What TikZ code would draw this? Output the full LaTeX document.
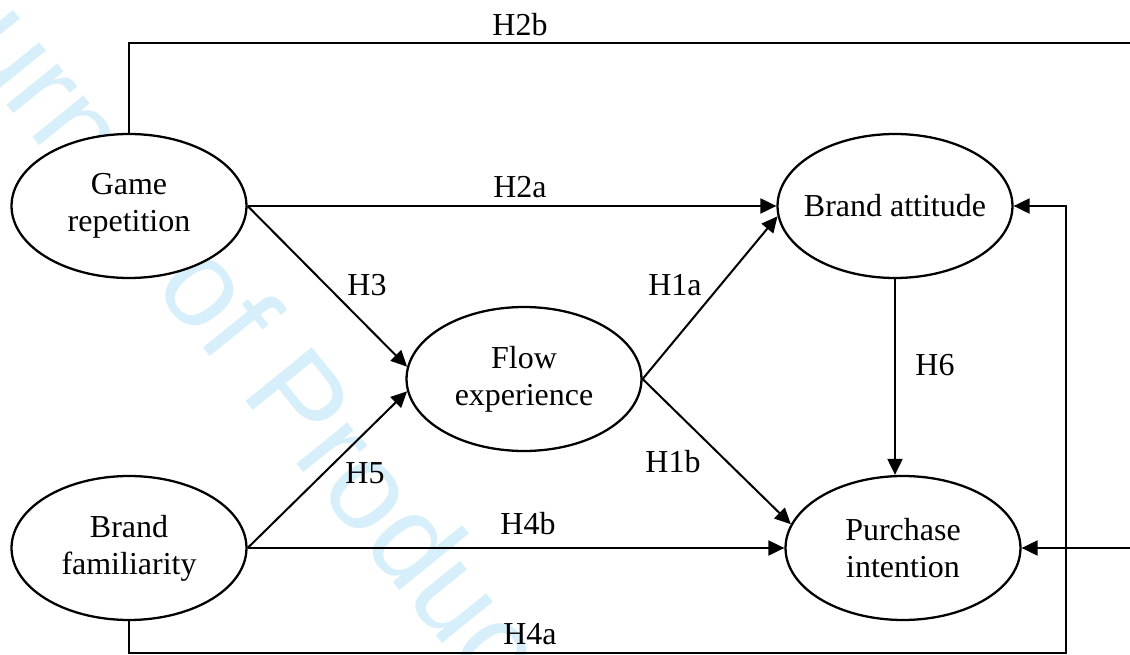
\documentclass[tikz,border=0pt]{standalone}
\usepackage{fontspec}
\setmainfont{Liberation Serif}
\newfontfamily\wmfont{Liberation Sans}
\usetikzlibrary{shapes.geometric,arrows.meta,positioning,calc}
\definecolor{wmblue}{RGB}{214,239,251}

\begin{document}
\begin{tikzpicture}[x=0.02cm, y=-0.02cm,
  construct/.style={ellipse, draw, line width=1.3pt, fill=white, minimum width=4.7cm,
    minimum height=2.88cm, inner sep=0pt, align=center, font=\fontsize{18.2}{21}\selectfont},
  hyp/.style={line width=1.15pt, -{Triangle[length=0.32cm, width=0.3cm]}},
  hlabel/.style={font=\fontsize{18.2}{21}\selectfont, inner sep=0pt}]
  \useasboundingbox (0,0) rectangle (1130,655);
  \clip (0,0) rectangle (1130,655);
  % watermark
  \node[wmblue, font=\wmfont\fontsize{70.6}{70}\selectfont, inner sep=0pt, rotate=-51,
    anchor=base west] (wm) at (-125,-57) {Journal of Product};
  % constructs
  \node[construct] (gr) at (129,206) {Game\\repetition};
  \node[construct] (bf) at (129,548) {Brand\\familiarity};
  \node[construct] (fe) at (524,379) {Flow\\experience};
  \node[construct, inner xsep=-0.16cm] (ba) at (895,206) {Brand attitude};
  \node[construct] (pi) at (903,548) {Purchase\\intention};
  \coordinate (topline) at (1160,43);
  \coordinate (botline) at (1066,653);
  % hypotheses
  \draw[hyp] (gr.east) -- (ba.west);
  \draw[hyp] (gr.east) -- (fe.174);
  \draw[hyp] (bf.east) -- (fe.186);
  \draw[hyp] (bf.east) -- (pi.west);
  \draw[hyp] (fe.east) -- (ba.185);
  \draw[hyp] (fe.east) -- (pi.168);
  \draw[hyp] (ba.south) -- (ba.south |- pi.north);
  \draw[hyp] (gr.north) |- (topline) |- (pi.east);
  \draw[hyp] (bf.south) |- (botline) |- (ba.east);
  \node[hlabel] (h2b) at (520,25) {H2b};
  \node[hlabel] (h2a) at (520,187) {H2a};
  \node[hlabel] (h3) at (367,285) {H3};
  \node[hlabel] (h5) at (365,473) {H5};
  \node[hlabel] (h4b) at (528,524) {H4b};
  \node[hlabel] (h4a) at (530,634) {H4a};
  \node[hlabel] (h1a) at (675,285) {H1a};
  \node[hlabel] (h1b) at (673,462) {H1b};
  \node[hlabel] (h6) at (935,365) {H6};
\end{tikzpicture}
\end{document}
